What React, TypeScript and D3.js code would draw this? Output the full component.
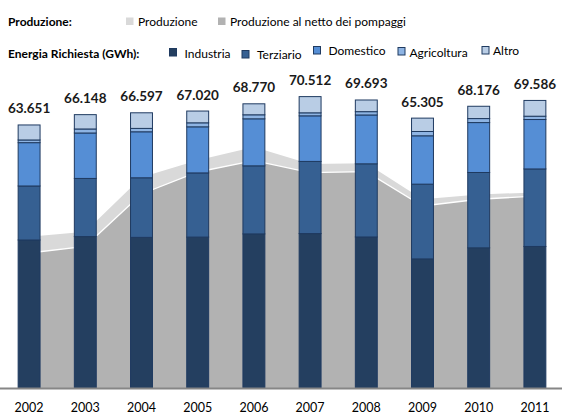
import React, { useEffect, useRef } from "react";
import * as d3 from "d3";

// years on the category axis
const years = ["2002", "2003", "2004", "2005", "2006", "2007", "2008", "2009", "2010", "2011"];

// energy demand by sector (GWh), stacked bottom to top
const industria = [35820, 36650, 36450, 36520, 37290, 37380, 36550, 31240, 33920, 34250];
const terziario = [13070, 14060, 14420, 15530, 16470, 17450, 17700, 18090, 18230, 18760];
const domestico = [10480, 11000, 11130, 11150, 11380, 11030, 11820, 11700, 12080, 11960];
const agricoltura = [650, 970, 820, 970, 970, 730, 800, 1040, 970, 800];
const altro = [3631, 3468, 3777, 2850, 2660, 3922, 2823, 3235, 2976, 3816];

// production areas (GWh)
const produzione = [36570, 37800, 50970, 55110, 58330, 54200, 54400, 45690, 46830, 47310];
const produzioneNetta = [32670, 34290, 46950, 52270, 55030, 52130, 52350, 44050, 45670, 46440];

const sectors = ["Industria", "Terziario", "Domestico", "Agricoltura", "Altro"];
const sectorColors = ["#243f60", "#366092", "#558ed5", "#8eb4e3", "#b9cde5"];

const W = 562;
const H = 414;
const FONT = "Lato, 'Open Sans', sans-serif";

const itFormat = d3.formatLocale({
  decimal: ",",
  thousands: ".",
  grouping: [3],
  currency: ["", " €"],
}).format(",d");

export default function App() {
  const svgRef = useRef<SVGSVGElement>(null);

  useEffect(() => {
    const svg = d3.select(svgRef.current);
    svg.selectChildren().remove();

    const x = d3.scaleBand().domain(years).range([1, 563]).paddingInner(0.61).paddingOuter(0.305);
    const y = d3.scaleLinear().domain([0, 80000]).range([388, 57.4]);
    const cx = (d: string) => (x(d) || 0) + x.bandwidth() / 2;

    // production areas behind the bars
    const area = d3
      .area<number>()
      .x((_, i) => cx(years[i]))
      .y0(y(0))
      .y1((d) => y(d));
    svg.append("path").datum(produzione).attr("d", area).attr("fill", "#d9d9d9");
    svg.append("path").datum(produzioneNetta).attr("d", area).attr("fill", "#b2b2b2");
    svg
      .append("path")
      .datum(produzioneNetta)
      .attr("fill", "none")
      .attr("stroke", "#ffffff")
      .attr("stroke-width", 1.3)
      .attr(
        "d",
        d3
          .line<number>()
          .x((_, i) => cx(years[i]))
          .y((d) => y(d))
      );

    // stacked bars
    const rows = years.map((yr, i) => ({
      year: yr,
      Industria: industria[i],
      Terziario: terziario[i],
      Domestico: domestico[i],
      Agricoltura: agricoltura[i],
      Altro: altro[i],
    }));
    const series = d3.stack<any>().keys(sectors)(rows);

    svg
      .append("g")
      .selectAll("g")
      .data(series)
      .enter()
      .append("g")
      .attr("fill", (_, i) => sectorColors[i])
      .selectAll("rect")
      .data((d) => d)
      .enter()
      .append("rect")
      .attr("x", (d) => x(d.data.year) || 0)
      .attr("width", x.bandwidth())
      .attr("y", (d) => y(d[1]))
      .attr("height", (d) => y(d[0]) - y(d[1]))
      .attr("stroke", "#1f3a60")
      .attr("stroke-width", 1);

    // totals above bars
    svg
      .append("g")
      .selectAll("text")
      .data(rows)
      .enter()
      .append("text")
      .attr("x", (d) => cx(d.year))
      .attr("y", (d) => y(d.Industria + d.Terziario + d.Domestico + d.Agricoltura + d.Altro) - 11.5)
      .attr("text-anchor", "middle")
      .attr("font-family", FONT)
      .attr("font-weight", "bold")
      .attr("font-size", 13.5)
      .attr("fill", "#1a1a1a")
      .text((d) => itFormat(d.Industria + d.Terziario + d.Domestico + d.Agricoltura + d.Altro));

    // category axis
    svg
      .append("line")
      .attr("x1", 0)
      .attr("x2", W)
      .attr("y1", y(0) + 0.5)
      .attr("y2", y(0) + 0.5)
      .attr("stroke", "#868686")
      .attr("stroke-width", 2);
    svg
      .append("g")
      .selectAll("text")
      .data(years)
      .enter()
      .append("text")
      .attr("x", (d) => cx(d))
      .attr("y", 412)
      .attr("text-anchor", "middle")
      .attr("font-family", FONT)
      .attr("font-size", 12.5)
      .attr("fill", "#000")
      .text((d) => d);

    // legend
    const lg = svg.append("g").attr("font-family", FONT).attr("font-size", 12).attr("fill", "#000");
    lg.append("text").attr("x", 8).attr("y", 26).attr("font-weight", "bold").text("Produzione:");
    lg.append("text").attr("x", 8).attr("y", 57.5).attr("font-weight", "bold").text("Energia Richiesta  (GWh):");

    const prodItems = [
      { label: "Produzione", color: "#d9d9d9", sx: 126, tx: 138 },
      { label: "Produzione al netto dei pompaggi", color: "#b2b2b2", sx: 218, tx: 230 },
    ];
    prodItems.forEach((it) => {
      lg.append("rect").attr("x", it.sx).attr("y", 17.5).attr("width", 7.5).attr("height", 7.5).attr("fill", it.color);
      lg.append("text").attr("x", it.tx).attr("y", 26).text(it.label);
    });

    const secItems = [
      { sx: 169.5, sy: 48.5, tx: 184.5, ty: 57.5 },
      { sx: 242, sy: 50.5, tx: 257, ty: 59 },
      { sx: 313.5, sy: 46.5, tx: 328.5, ty: 55 },
      { sx: 398, sy: 47.5, tx: 409.5, ty: 56.5 },
      { sx: 482, sy: 46.5, tx: 493, ty: 55 },
    ];
    secItems.forEach((it, i) => {
      lg.append("rect")
        .attr("x", it.sx)
        .attr("y", it.sy)
        .attr("width", 7)
        .attr("height", 7.5)
        .attr("fill", sectorColors[i])
        .attr("stroke", "#1f3a60")
        .attr("stroke-width", 1);
      lg.append("text").attr("x", it.tx).attr("y", it.ty).text(sectors[i]);
    });
  }, []);

  return (
    <svg
      ref={svgRef}
      width={W}
      height={H}
      style={{ position: "absolute", left: 0, top: 0, background: "#fff" }}
    ></svg>
  );
}
